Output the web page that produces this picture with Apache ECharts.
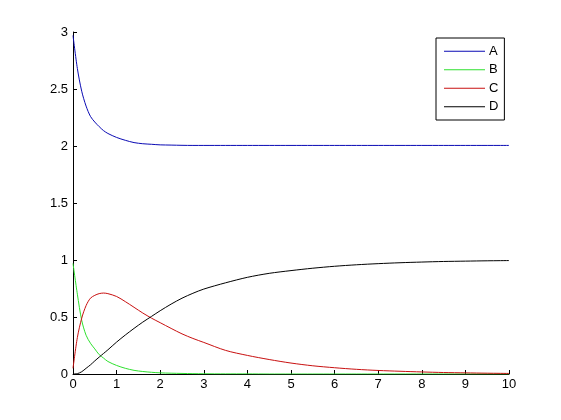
<!DOCTYPE html>
<html><head><meta charset="utf-8">
<script src="https://cdn.jsdelivr.net/npm/echarts@6/dist/echarts.min.js"></script>
<style>html,body{margin:0;padding:0;background:#fff}#c{width:561px;height:420px}</style>
</head><body><div id="c"></div>
<script>
var names = ['A', 'B', 'C', 'D'];
var t = [0, 0.1, 0.2, 0.3, 0.4, 0.5, 0.6, 0.7, 0.8, 1.0, 1.2, 1.4, 1.6, 1.8, 2.0, 2.25, 2.5, 2.75, 3, 3.5, 4, 4.5, 5, 5.5, 6, 6.5, 7, 7.5, 8, 8.5, 9, 9.5, 10];
var valsA = [2.97, 2.68, 2.48, 2.35, 2.26, 2.21, 2.17, 2.135, 2.11, 2.075, 2.05, 2.03, 2.02, 2.015, 2.01, 2.008, 2.006, 2.005, 2.005, 2.005, 2.005, 2.005, 2.005, 2.005, 2.005, 2.005, 2.005, 2.005, 2.005, 2.005, 2.005, 2.005, 2.005];
var valsB = [0.97, 0.70, 0.47, 0.34, 0.27, 0.22, 0.17, 0.14, 0.11, 0.075, 0.05, 0.032, 0.022, 0.015, 0.01, 0.007, 0.005, 0.003, 0.002, 0.001, 0.001, 0, 0, 0, 0, 0, 0, 0, 0, 0, 0, 0, 0];
var valsC = [0.05, 0.32, 0.49, 0.60, 0.665, 0.69, 0.705, 0.71, 0.705, 0.68, 0.635, 0.585, 0.535, 0.49, 0.45, 0.40, 0.352, 0.312, 0.277, 0.207, 0.163, 0.127, 0.096, 0.072, 0.055, 0.041, 0.031, 0.024, 0.018, 0.013, 0.01, 0.007, 0.005];
var valsD = [0, 0.003, 0.02, 0.05, 0.08, 0.115, 0.148, 0.18, 0.212, 0.28, 0.342, 0.40, 0.455, 0.505, 0.555, 0.613, 0.665, 0.708, 0.745, 0.80, 0.848, 0.883, 0.907, 0.928, 0.945, 0.958, 0.968, 0.976, 0.982, 0.987, 0.99, 0.993, 0.995];
var colors = ['#0a0ab4', '#2ee02e', '#c81010', '#000000'];

var allVals = [valsA, valsB, valsC, valsD];
var chart = echarts.init(document.getElementById('c'), null, {renderer: 'canvas'});
var font = 'Liberation Sans, Arial, sans-serif';
var series = names.map(function (n, i) {
  return {
    name: n, type: 'line', showSymbol: false, symbol: 'none', smooth: 0.3,
    lineStyle: {color: colors[i], width: 1}, itemStyle: {color: colors[i]},
    data: t.map(function (x, j) { return [x, allVals[i][j]]; })
  };
});
chart.setOption({
  animation: false,
  backgroundColor: '#fff',
  grid: {left: 73, right: 52, top: 32, bottom: 46, containLabel: false},
  legend: {
    orient: 'vertical', left: 436, top: 38, data: names,
    icon: 'rect', itemWidth: 41, itemHeight: 1, itemGap: 0,
    padding: [4, 6, 4, 8],
    borderColor: '#000', borderWidth: 1, backgroundColor: '#fff',
    textStyle: {fontFamily: font, fontSize: 13, color: '#000', lineHeight: 18.5, padding: [0, 0, 0, -1]}
  },
  xAxis: {
    type: 'value', min: 0, max: 10, interval: 1,
    axisLine: {show: true, onZero: false, lineStyle: {color: '#000', width: 1}},
    axisTick: {show: true, inside: true, length: 4, lineStyle: {color: '#000'}},
    axisLabel: {color: '#000', fontFamily: font, fontSize: 13, margin: 4},
    splitLine: {show: false}
  },
  yAxis: {
    type: 'value', min: 0, max: 3, interval: 0.5,
    axisLine: {show: true, lineStyle: {color: '#000', width: 1}},
    axisTick: {show: true, inside: true, length: 4, lineStyle: {color: '#000'}},
    axisLabel: {color: '#000', fontFamily: font, fontSize: 13, margin: 5},
    splitLine: {show: false}
  },
  series: series
});
</script></body></html>
